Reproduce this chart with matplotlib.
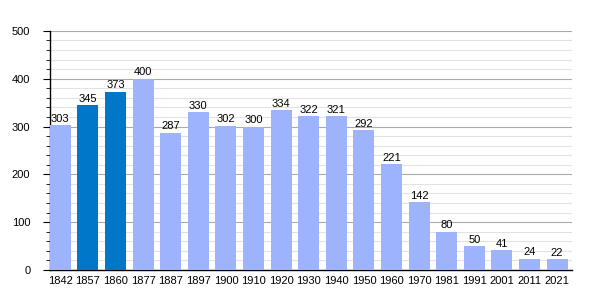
import matplotlib
matplotlib.use("Agg")
import matplotlib.pyplot as plt
from matplotlib.ticker import MultipleLocator

years = ["1842", "1857", "1860", "1877", "1887", "1897", "1900", "1910", "1920", "1930",
         "1940", "1950", "1960", "1970", "1981", "1991", "2001", "2011", "2021"]
population = [303, 345, 373, 400, 287, 330, 302, 300, 334, 322,
              321, 292, 221, 142, 80, 50, 41, 24, 22]
highlight = ["1857", "1860"]

plt.rcParams["font.family"] = ["Liberation Sans", "DejaVu Sans"]

light = "#9db3fb"
dark = "#0077c8"
colors = [dark if y in highlight else light for y in years]

fig = plt.figure(figsize=(6, 3), dpi=100)
ax = fig.add_axes([0.083, 0.1, 0.87, 0.797])

x = range(len(years))
w = 0.76
bars = ax.bar(x, population, width=w, color=colors, zorder=3)

for xi, v in zip(x, population):
    ax.text(xi, v + 3, str(v), ha="center", va="bottom", fontsize=8, zorder=4)

ax.set_ylim(0, 500)
ax.set_xlim(-w / 2, len(years) - 1 + w / 2 + 0.15)
ax.yaxis.set_major_locator(MultipleLocator(100))
ax.yaxis.set_minor_locator(MultipleLocator(20))
ax.grid(axis="y", which="major", color="#aaaaaa", linewidth=0.8, zorder=0)
ax.grid(axis="y", which="minor", color="#e2e2e2", linewidth=0.8, zorder=0)

ax.set_xticks(list(x))
ax.set_xticklabels(years)
ax.tick_params(axis="x", length=0, labelsize=8, pad=4)
ax.tick_params(axis="y", which="major", length=5, labelsize=8, pad=9)
ax.tick_params(axis="y", which="minor", length=3)

for s in ["top", "right"]:
    ax.spines[s].set_visible(False)
ax.spines["left"].set_linewidth(1)
ax.spines["bottom"].set_linewidth(1)

fig.savefig("out.png", dpi=100)
